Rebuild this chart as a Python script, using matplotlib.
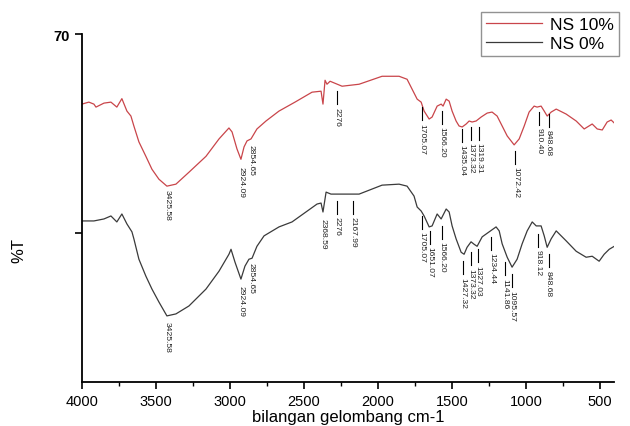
import numpy as np
import matplotlib.pyplot as plt
import matplotlib as mpl

mpl.rcParams['font.family'] = ['Liberation Sans', 'DejaVu Sans']

# NS 10% spectrum (wavenumber, %T)
wn_10 = [4000, 3953, 3919, 3905, 3851, 3804, 3764, 3730, 3696, 3669, 3649, 3615,
         3568, 3527, 3480, 3426, 3365, 3277, 3162, 3074, 3007, 2986, 2953, 2926,
         2905, 2885, 2858, 2818, 2757, 2669, 2561, 2446, 2385, 2372, 2358, 2345,
         2324, 2243, 2128, 1973, 1858, 1804, 1770, 1736, 1709, 1689, 1655, 1635,
         1601, 1574, 1561, 1540, 1520, 1500, 1473, 1453, 1432, 1405, 1385, 1365,
         1338, 1304, 1263, 1230, 1196, 1162, 1128, 1081, 1047, 1013, 980, 946,
         926, 899, 878, 858, 831, 797, 730, 662, 608, 554, 520, 486, 453, 426, 405]
t_10 = [55.9, 56.3, 55.9, 55.3, 56.1, 56.3, 55.3, 57.0, 54.5, 53.5, 51.5, 48.3,
        45.4, 42.8, 40.8, 39.4, 39.8, 42.2, 45.4, 48.9, 51.1, 50.3, 46.9, 44.8,
        47.3, 48.5, 48.9, 50.9, 52.5, 54.5, 56.3, 58.3, 58.5, 55.9, 60.7, 59.9,
        60.5, 59.5, 59.9, 61.5, 61.5, 60.9, 58.9, 56.9, 56.3, 54.5, 52.9, 53.3,
        55.5, 55.9, 55.5, 56.9, 56.5, 54.5, 52.5, 51.5, 51.3, 51.9, 52.5, 52.3,
        52.5, 53.3, 54.1, 54.3, 53.5, 51.5, 49.5, 47.7, 48.9, 51.5, 54.3, 55.5,
        55.3, 55.5, 54.5, 53.5, 54.3, 54.9, 53.9, 52.5, 50.9, 51.9, 50.9, 50.7,
        52.3, 52.7, 52.1]

# NS 0% spectrum
wn_0 = [4000, 3919, 3851, 3804, 3764, 3730, 3696, 3662, 3649, 3615, 3568, 3527,
        3480, 3426, 3365, 3277, 3162, 3074, 3007, 2993, 2966, 2926, 2899, 2872,
        2851, 2818, 2770, 2669, 2581, 2412, 2385, 2372, 2351, 2318, 2128, 1973,
        1858, 1804, 1757, 1736, 1709, 1689, 1655, 1635, 1601, 1574, 1540, 1520,
        1500, 1473, 1439, 1419, 1399, 1372, 1351, 1331, 1297, 1250, 1203, 1182,
        1162, 1128, 1095, 1061, 1027, 993, 959, 932, 899, 878, 858, 831, 797,
        730, 662, 595, 554, 507, 473, 439, 405]
t_0 = [32.4, 32.4, 32.8, 33.4, 32.2, 33.8, 31.8, 30.2, 28.8, 24.7, 21.3, 18.7,
       16.1, 13.3, 13.7, 15.3, 18.7, 22.3, 25.7, 26.7, 24.1, 20.7, 23.3, 24.7,
       24.9, 27.3, 29.4, 31.2, 32.2, 35.8, 36.0, 34.2, 38.2, 37.8, 37.8, 39.6,
       39.8, 39.4, 37.4, 35.2, 34.4, 33.4, 31.2, 31.4, 33.8, 32.8, 34.8, 34.2,
       31.4, 28.8, 26.1, 25.7, 27.1, 28.2, 27.7, 27.3, 29.2, 30.2, 31.2, 30.4,
       27.8, 25.1, 23.1, 24.7, 27.8, 30.4, 32.2, 31.4, 31.4, 29.4, 27.1, 28.8,
       30.4, 28.4, 26.3, 25.1, 25.3, 24.3, 25.7, 26.7, 27.3]

# peak labels: (label, %T of label top, has marker line)
peaks_10 = [('3425.58', 38.8, False), ('2924.09', 43.4, False), ('2854.65', 47.9, False),
            ('2276', 58.5, True), ('1705.07', 55.3, True), ('1566.20', 54.5, True),
            ('1435.04', 50.9, True), ('1373.32', 51.3, True), ('1319.31', 51.3, True),
            ('1072.42', 46.5, True), ('910.40', 54.3, True), ('848.68', 53.9, True)]
peaks_0 = [('3425.58', 12.3, False), ('2924.09', 19.5, False), ('2854.65', 24.1, False),
           ('2368.59', 33.0, False), ('2276', 36.4, True), ('2167.99', 36.4, True),
           ('1705.07', 33.4, True), ('1651.07', 30.4, True), ('1566.20', 31.4, True),
           ('1427.32', 24.3, True), ('1373.32', 26.1, True), ('1327.03', 26.7, True),
           ('1234.44', 29.2, True), ('1141.86', 24.1, True), ('1095.57', 21.7, True),
           ('918.12', 29.8, True), ('848.68', 25.7, True)]

red = '#c9454a'
dark = '#3a3a3a'


def label_peaks(ax, peaks):
    for lab, top, line in peaks:
        x = float(lab)
        if line:
            ax.plot([x, x], [top, top - 2.6], color='k', lw=0.8)
            top = top - 3.1
        ax.text(x, top, lab, rotation=270, ha='center', va='top',
                fontsize=6.1, color='#222222')


def main():
    fig = plt.figure(figsize=(6.3, 4.27), dpi=100)
    ax = fig.add_axes([0.130, 0.103, 0.845, 0.815])

    l1, = ax.plot(wn_10, t_10, color=red, lw=0.9)
    l2, = ax.plot(wn_0, t_0, color=dark, lw=0.9)

    label_peaks(ax, peaks_10)
    label_peaks(ax, peaks_0)

    ax.set_xlim(4000, 405)
    ax.set_ylim(0, 70)
    ax.set_xticks([4000, 3500, 3000, 2500, 2000, 1500, 1000, 500])
    ax.set_xticks(np.arange(3750, 400, -500), minor=True)
    ax.set_yticks([30, 70])
    ax.set_yticklabels(['', '70'])

    for s in ['top', 'right']:
        ax.spines[s].set_visible(False)
    for s in ['left', 'bottom']:
        ax.spines[s].set_linewidth(1.3)
    ax.tick_params(direction='out', length=5, width=1.2, labelsize=10.5)
    ax.tick_params(which='minor', direction='out', length=3, width=1.0)
    for t in ax.get_yticklabels():
        t.set_fontweight('bold')

    ax.set_xlabel('bilangan gelombang cm-1', fontsize=12, labelpad=1)
    ax.set_ylabel('%T', fontsize=12)
    ax.yaxis.set_label_coords(-0.105, 0.38)

    leg = fig.legend([l1, l2], ['NS 10%', 'NS 0%'], loc='upper right',
                     bbox_to_anchor=(0.997, 0.99), fontsize=12.5, frameon=True,
                     fancybox=False, handlelength=3.2, borderpad=0.3,
                     labelspacing=0.2, handletextpad=0.5)
    leg.get_frame().set_edgecolor('#777777')
    leg.get_frame().set_linewidth(1.0)

    plt.savefig('out.png', dpi=100)


if __name__ == "__main__":
    main()
